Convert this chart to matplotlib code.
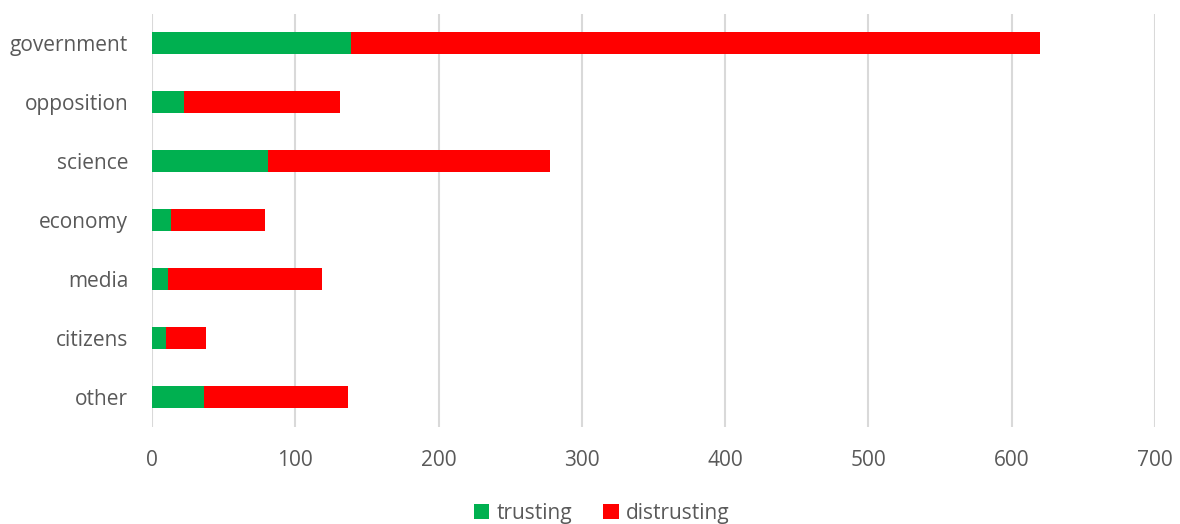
import matplotlib.pyplot as plt
import numpy as np

categories = ['government', 'opposition', 'science', 'economy', 'media', 'citizens', 'other']
trusting = [139, 22, 81, 13, 11, 10, 36]
distrusting = [481, 109, 197, 66, 108, 28, 101]

plt.rcParams['font.family'] = ['Open Sans', 'DejaVu Sans']
text_color = '#595959'

fig = plt.figure(figsize=(11.8, 5.24), dpi=100)
ax = fig.add_axes([0.1288, 0.186, 0.85, 0.788])

y = np.arange(len(categories))
h = 0.36
ax.barh(y, trusting, height=h, color='#00b050', label='trusting', zorder=3)
ax.barh(y, distrusting, left=trusting, height=h, color='#ff0000', label='distrusting', zorder=3)

ax.set_yticks(y)
ax.set_yticklabels(categories)
ax.set_ylim(len(categories) - 0.5, -0.5)
ax.set_xlim(0, 700)
ax.set_xticks(np.arange(0, 701, 100))

ax.grid(axis='x', color='#d9d9d9', linewidth=1.5, zorder=0)
for s in ax.spines.values():
    s.set_visible(False)
ax.tick_params(length=0, labelsize=15, colors=text_color)
ax.tick_params(axis='y', pad=17)
ax.tick_params(axis='x', pad=17)

leg = fig.legend(loc='lower center', bbox_to_anchor=(0.51, -0.035), ncol=2, frameon=False,
                 fontsize=15, handlelength=0.75, handleheight=0.75, handletextpad=0.35,
                 columnspacing=1.5)
for t in leg.get_texts():
    t.set_color(text_color)

fig.savefig('out.png', dpi=100)
